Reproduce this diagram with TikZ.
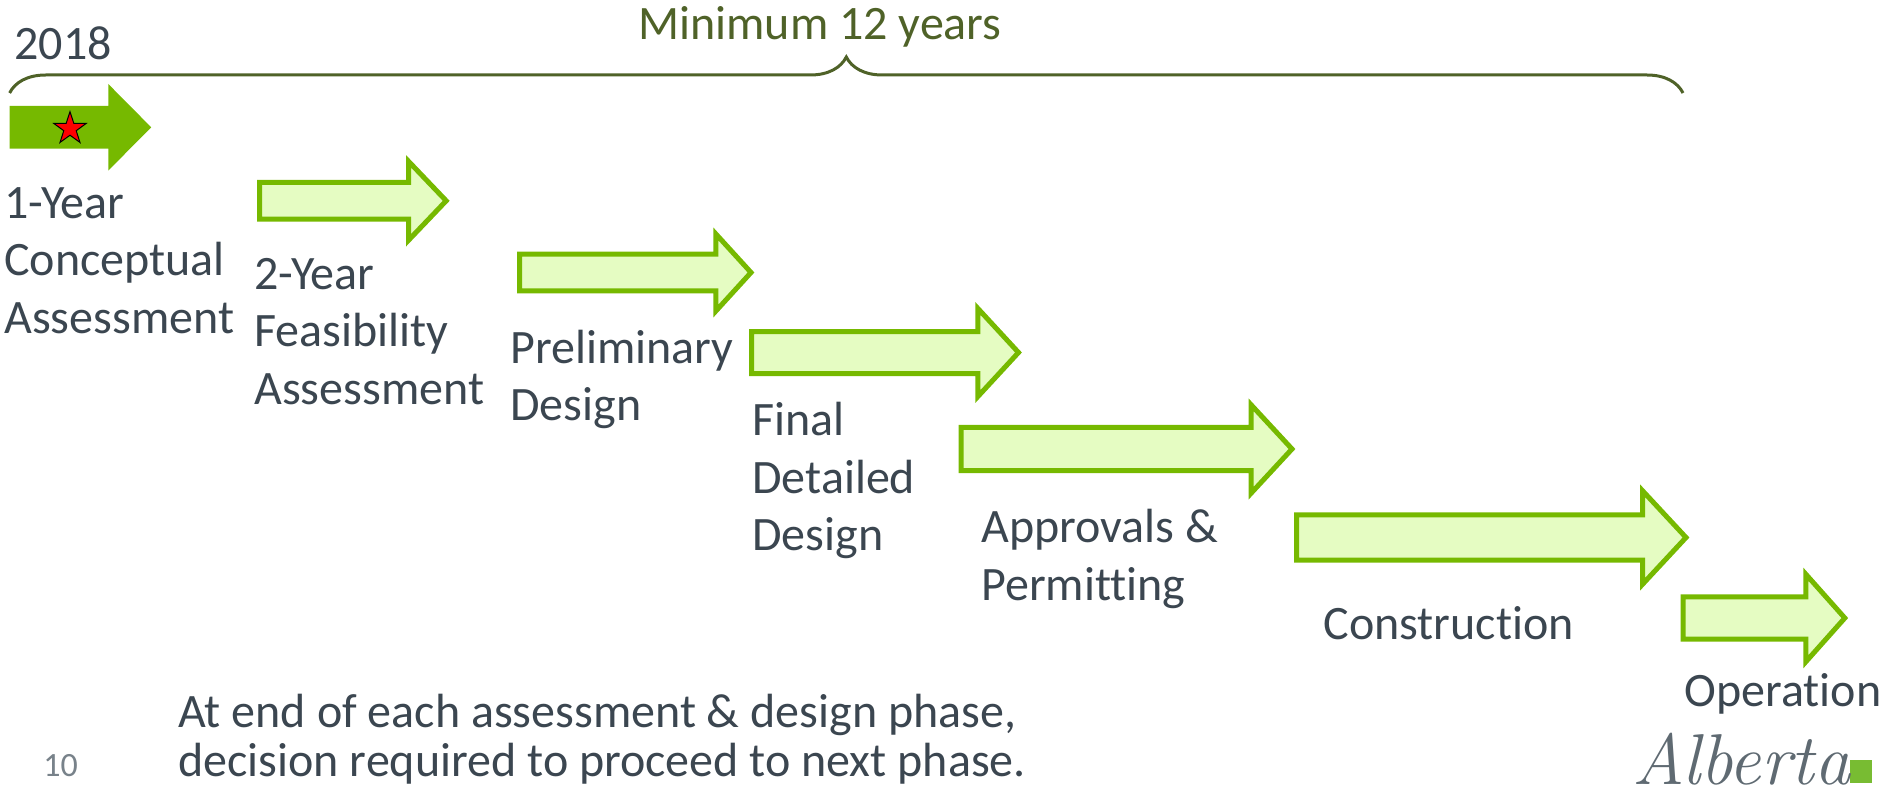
\documentclass[tikz,border=0pt]{standalone}
\usepackage{fontspec}
\usepackage{xcolor}
\usetikzlibrary{shapes.geometric,decorations.pathreplacing}
\newfontfamily\carlito[Ligatures=NoCommon]{Carlito}
\definecolor{textdark}{RGB}{59,70,80}
\definecolor{olivedark}{RGB}{79,98,40}
\definecolor{phasegreen}{RGB}{118,185,0}
\definecolor{phaselight}{RGB}{229,252,194}
\definecolor{logogrey}{RGB}{95,106,114}
\definecolor{logogreen}{RGB}{120,188,50}
\definecolor{pagegrey}{RGB}{120,130,138}

\begin{document}
\begin{tikzpicture}[x=0.5pt,y=-0.5pt,
	label/.style={anchor=base west,inner sep=0pt,align=left,text=textdark,
		font=\carlito\fontsize{24}{28.75}\selectfont},
	phase/.style={draw=phasegreen,fill=phaselight,line width=2.5pt}]
				\useasboundingbox (0,0) rectangle (1895,792);
				% span of the whole programme
				\coordinate (bl) at (9.6,93);
				\coordinate (br) at (1683,93);
				\draw[olivedark,line width=1.5pt,decorate,decoration={brace,amplitude=18pt}] (bl) -- (br);
				\node[label,text=olivedark] (span) at (638,39.3) {Minimum 12 years};
				\node[label] (year) at (14,60) {2018};
				% phase arrows
				\fill[phasegreen] (9.6,106) -- (108.3,106) -- (108.3,84) -- (151.2,127.3) -- (108.3,170.6) -- (108.3,148.6) -- (9.6,148.6) -- cycle;
				\node[star,star points=5,star point ratio=2.6,fill=red,draw=black,line width=0.5pt,minimum size=17pt,inner sep=0pt] (now) at (70,128.7) {};
				\draw[phase] (259.5,182.4) -- (408.5,182.4) -- (408.5,161.3) -- (446.2,200.8) -- (408.5,240.3) -- (408.5,219.2) -- (259.5,219.2) -- cycle;
				\draw[phase] (519.5,254.2) -- (715.9,254.2) -- (715.9,234) -- (751,272.5) -- (715.9,311) -- (715.9,290.8) -- (519.5,290.8) -- cycle;
				\draw[phase] (751.5,331.5) -- (977.9,331.5) -- (977.9,308.5) -- (1018.5,352.5) -- (977.9,396.5) -- (977.9,373.5) -- (751.5,373.5) -- cycle;
				\draw[phase] (961.2,427.3) -- (1251,427.3) -- (1251,404.7) -- (1292,449) -- (1251,493.3) -- (1251,470.7) -- (961.2,470.7) -- cycle;
				\draw[phase] (1296.5,514.8) -- (1642.5,514.8) -- (1642.5,490.7) -- (1686,537.5) -- (1642.5,584.3) -- (1642.5,560.2) -- (1296.5,560.2) -- cycle;
				\draw[phase] (1683.2,596.8) -- (1805.8,596.8) -- (1805.8,574.2) -- (1844.8,618) -- (1805.8,661.8) -- (1805.8,639.2) -- (1683.2,639.2) -- cycle;
				% phase names (placed by their last baseline)
				\node[label] (conc) at (4,333) {1-Year\\Conceptual\\Assessment};
				\node[label] (feas) at (254,404) {2-Year\\Feasibility\\Assessment};
				\node[label] (prel) at (510,420.7) {Preliminary\\Design};
				\node[label] (fina) at (752,550.7) {Final\\Detailed\\Design};
				\node[label] (appr) at (981,600) {Approvals \&\\Permitting};
				\node[label] (cons) at (1323,639.3) {Construction};
				\node[label] (oper) at (1684,706) {Operation};
				% footer
				\node[label,font=\carlito\fontsize{24}{24.5}\selectfont] (note) at (178,776) {At end of each assessment \& design phase,\\decision required to proceed to next phase.};
				\node[label,text=pagegrey,font=\carlito\fontsize{17}{17}\selectfont] (page) at (43,776.7) {10};
				\fill[logogreen] (1850,760) rectangle (1871.7,782.7);
				\node[label,text=logogrey,font=\rmfamily\itshape\fontsize{36}{36}\selectfont] (logo) at (1632,784) {Alberta};
			\end{tikzpicture}
\end{document}
